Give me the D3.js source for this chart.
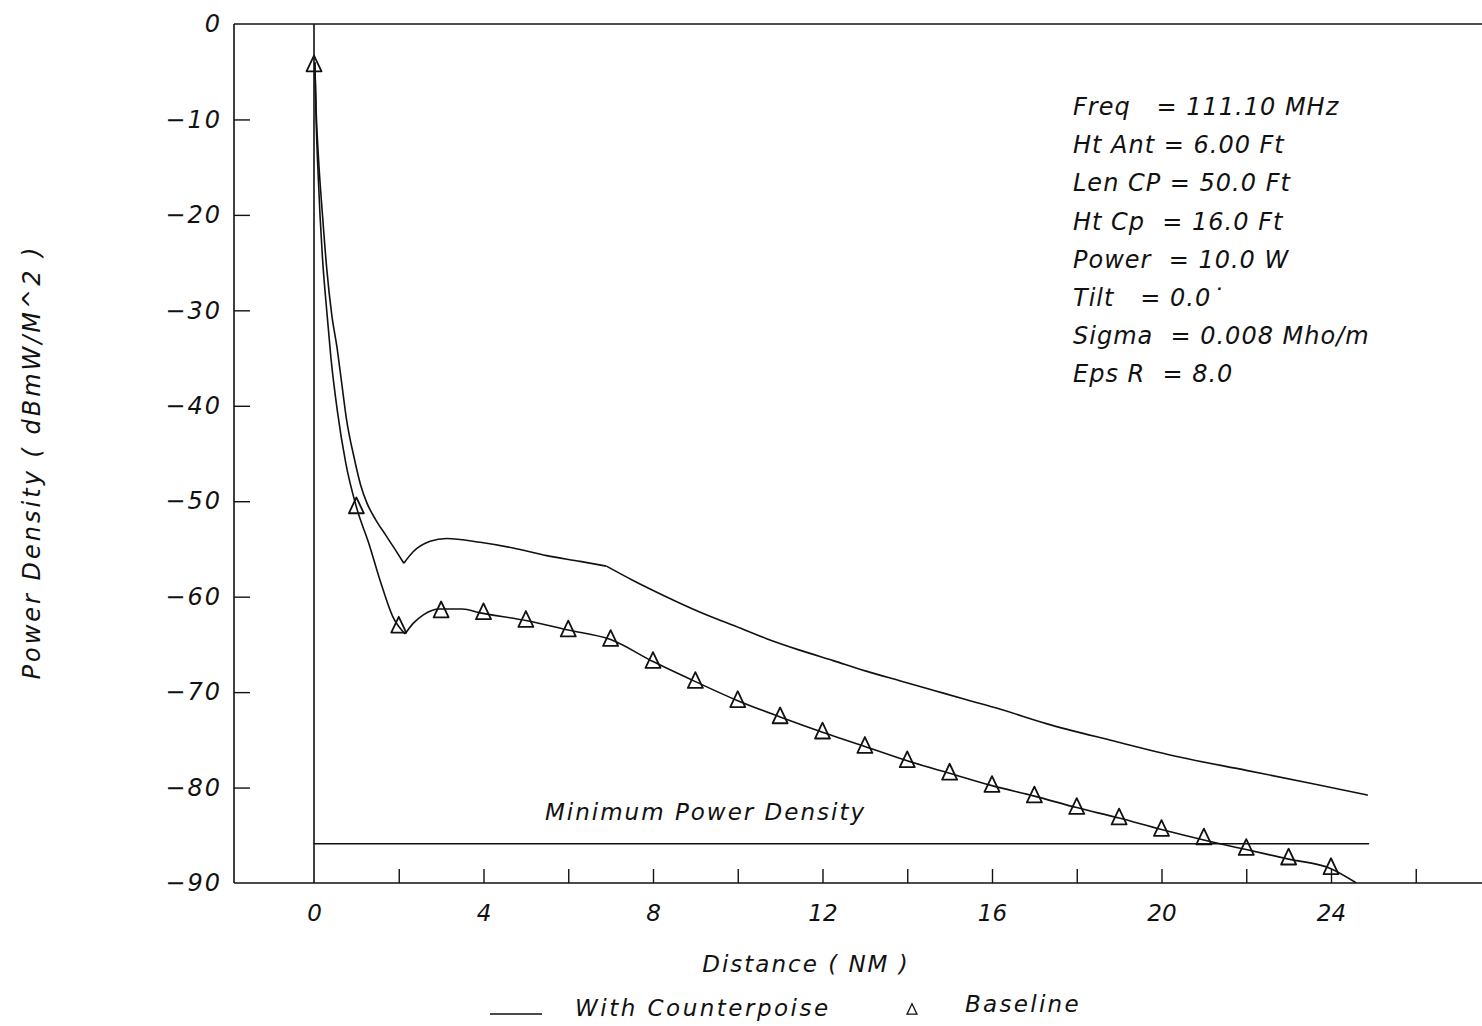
<!DOCTYPE html>
<html>
<head>
<meta charset="utf-8">
<script src="https://cdn.jsdelivr.net/npm/d3@7"></script>
<style>
  body { margin: 0; background: #fff; }
  svg text { font-family: "DejaVu Sans", sans-serif; font-style: italic; fill: #111; }
</style>
</head>
<body>
<svg id="chart" width="1482" height="1026"></svg>
<script>
// With Counterpoise curve, broken at the cusp and the knee
const counterX = [0.02, 0.05, 0.1, 0.2, 0.3, 0.42, 0.54, 0.65, 0.77, 0.95, 1.1, 1.25, 1.45, 1.7, 1.92, 2.12,
  2.34, 2.74, 3.13, 3.92, 4.7, 5.49, 6.28, 6.9,
  7.53, 8.31, 9.1, 9.89, 10.68, 11.46, 12.25, 13.03, 13.82, 14.61, 15.4, 16.2, 17.28, 18.85, 20.42, 22.0, 23.57, 24.87];
const counterY = [-4, -9, -13.6, -20, -25.6, -30.5, -33.8, -37.5, -41.5, -45.5, -48.3, -50.2, -51.9, -53.6, -55.1, -56.5,
  -55.3, -54.2, -53.9, -54.3, -54.9, -55.7, -56.3, -56.8,
  -58.3, -60.0, -61.6, -63.0, -64.4, -65.6, -66.7, -67.8, -68.8, -69.8, -70.8, -71.8, -73.3, -75.1, -76.8, -78.2, -79.6, -80.8];
const counterBreaks = [2.12, 6.9];

// Baseline curve
const baseX = [0.02, 0.05, 0.1, 0.2, 0.3, 0.4, 0.55, 0.75, 1.0, 1.3, 1.56, 1.87, 2.15,
  2.34, 2.58, 2.97, 3.5, 3.92, 5, 6, 7, 8, 9, 10, 11, 12, 13, 14, 15, 16, 17, 18, 19, 20, 21, 22, 23, 24, 24.6];
const baseY = [-4, -10, -16, -24.5, -30, -35, -40.5, -46, -50.6, -54.5, -58.3, -62.2, -63.9,
  -62.8, -61.9, -61.3, -61.3, -61.7, -62.5, -63.5, -64.5, -66.8, -68.9, -70.9, -72.6, -74.2, -75.7, -77.2, -78.5, -79.8, -80.9, -82.1, -83.2, -84.4, -85.5, -86.5, -87.5, -88.5, -90];
const baseBreaks = [2.15];

// Baseline markers (triangles)
const markerX = [0, 1, 2, 3, 4, 5, 6, 7, 8, 9, 10, 11, 12, 13, 14, 15, 16, 17, 18, 19, 20, 21, 22, 23, 24];
const markerY = [-4.3, -50.6, -63.1, -61.5, -61.7, -62.5, -63.5, -64.5, -66.8, -68.9, -70.9, -72.6, -74.2,
  -75.7, -77.2, -78.5, -79.8, -80.9, -82.1, -83.2, -84.4, -85.3, -86.4, -87.4, -88.4];

const minPowerX = [0, 24.9];
const minPowerY = [-85.9, -85.9];

const yTicks = [0, -10, -20, -30, -40, -50, -60, -70, -80, -90];
const xLabelTicks = [0, 4, 8, 12, 16, 20, 24];
const xMinorTicks = [2, 4, 6, 8, 10, 12, 14, 16, 18, 20, 22, 24, 26];

const params = [
  "Freq   = 111.10 MHz",
  "Ht Ant = 6.00 Ft",
  "Len CP = 50.0 Ft",
  "Ht Cp  = 16.0 Ft",
  "Power  = 10.0 W",
  "Tilt   = 0.0\u02d9",
  "Sigma  = 0.008 Mho/m",
  "Eps R  = 8.0"
];

const svg = d3.select("#chart");
const plotLeft = 234, plotRight = 1482, plotTop = 24, plotBottom = 883;

const xScale = d3.scaleLinear().domain([0, 24]).range([314, 1331]);
const yScale = d3.scaleLinear().domain([-90, 0]).range([plotBottom, plotTop]);

// frame
svg.append("line").attr("x1", plotLeft).attr("x2", plotLeft).attr("y1", plotTop).attr("y2", plotBottom)
  .attr("stroke", "#111").attr("stroke-width", 1.6);
svg.append("line").attr("x1", plotLeft).attr("x2", plotRight).attr("y1", plotTop).attr("y2", plotTop)
  .attr("stroke", "#111").attr("stroke-width", 1.4);
svg.append("line").attr("x1", plotLeft).attr("x2", plotRight).attr("y1", plotBottom).attr("y2", plotBottom)
  .attr("stroke", "#111").attr("stroke-width", 1.6);
svg.append("line").attr("x1", xScale(0)).attr("x2", xScale(0)).attr("y1", plotTop).attr("y2", plotBottom)
  .attr("stroke", "#111").attr("stroke-width", 1.6);

// y axis
const yAxis = svg.append("g")
  .attr("transform", `translate(${plotLeft},0)`)
  .call(d3.axisLeft(yScale).tickValues(yTicks).tickSizeInner(-16).tickSizeOuter(0).tickPadding(12));
yAxis.select(".domain").remove();
yAxis.selectAll(".tick line").attr("stroke", "#111").attr("stroke-width", 1.4)
  .filter((d) => d === 0 || d === -90).remove();
yAxis.selectAll(".tick text").style("font-size", "24px").style("letter-spacing", "2px");

// x axis ticks
const xTickAxis = svg.append("g")
  .attr("transform", `translate(0,${plotBottom})`)
  .call(d3.axisBottom(xScale).tickValues(xMinorTicks).tickSizeInner(-14).tickSizeOuter(0).tickFormat(""));
xTickAxis.select(".domain").remove();
xTickAxis.selectAll(".tick line").attr("stroke", "#111").attr("stroke-width", 1.4);

const xLabelAxis = svg.append("g")
  .attr("transform", `translate(0,${plotBottom})`)
  .call(d3.axisBottom(xScale).tickValues(xLabelTicks).tickSize(0).tickPadding(22));
xLabelAxis.select(".domain").remove();
xLabelAxis.selectAll(".tick text").style("font-size", "23px");

// curves
function segments(xs, ys, breaks) {
  const pts = xs.map((x, i) => [x, ys[i]]);
  const segs = [];
  let cur = [];
  pts.forEach((p) => {
    cur.push(p);
    if (breaks.includes(p[0])) {
      segs.push(cur);
      cur = [p];
    }
  });
  segs.push(cur);
  return segs;
}

const line = d3.line()
  .x((d) => xScale(d[0]))
  .y((d) => yScale(d[1]))
  .curve(d3.curveMonotoneX);

svg.append("defs").append("clipPath").attr("id", "clip")
  .append("rect").attr("x", plotLeft).attr("y", plotTop)
  .attr("width", plotRight - plotLeft).attr("height", plotBottom - plotTop);

const plot = svg.append("g").attr("clip-path", "url(#clip)");

plot.selectAll("path.counter")
  .data(segments(counterX, counterY, counterBreaks))
  .join("path")
  .attr("class", "counter")
  .attr("d", line)
  .attr("fill", "none")
  .attr("stroke", "#111")
  .attr("stroke-width", 1.6);

plot.selectAll("path.base")
  .data(segments(baseX, baseY, baseBreaks))
  .join("path")
  .attr("class", "base")
  .attr("d", line)
  .attr("fill", "none")
  .attr("stroke", "#111")
  .attr("stroke-width", 1.6);

// minimum power density line
plot.append("path")
  .datum(minPowerX.map((x, i) => [x, minPowerY[i]]))
  .attr("d", d3.line().x((d) => xScale(d[0])).y((d) => yScale(d[1])))
  .attr("stroke", "#111")
  .attr("stroke-width", 1.5);

svg.append("text")
  .attr("x", 545)
  .attr("y", 820)
  .style("font-size", "23px")
  .style("letter-spacing", "2px")
  .text("Minimum Power Density");

// open triangles, a little taller than wide like the plotter's
const plotterTriangle = {
  draw(context, size) {
    const h = Math.sqrt(size);
    const w = h * 0.95;
    context.moveTo(0, -h * 0.6);
    context.lineTo(w / 2, h * 0.4);
    context.lineTo(-w / 2, h * 0.4);
    context.closePath();
  }
};
const tri = d3.symbol().type(plotterTriangle).size(250);
svg.selectAll("path.marker")
  .data(markerX.map((x, i) => [x, markerY[i]]))
  .join("path")
  .attr("class", "marker")
  .attr("transform", (d) => `translate(${xScale(d[0])},${yScale(d[1])})`)
  .attr("d", tri)
  .attr("fill", "none")
  .attr("stroke", "#111")
  .attr("stroke-width", 1.8)
  .attr("stroke-linejoin", "round");

// parameter block
svg.append("g")
  .selectAll("text")
  .data(params)
  .join("text")
  .attr("x", 1073)
  .attr("y", (d, i) => 115 + i * 38.2)
  .attr("xml:space", "preserve")
  .style("white-space", "pre")
  .style("font-size", "24px")
  .style("letter-spacing", "1px")
  .text((d) => d);

// axis titles
svg.append("text")
  .attr("x", 806)
  .attr("y", 972)
  .attr("text-anchor", "middle")
  .style("font-size", "23px")
  .style("letter-spacing", "2px")
  .text("Distance ( NM )");

svg.append("text")
  .attr("transform", "translate(40,462) rotate(-90)")
  .attr("text-anchor", "middle")
  .style("font-size", "24px")
  .style("letter-spacing", "3px")
  .text("Power Density ( dBmW/M^2 )");

// legend
svg.append("line")
  .attr("x1", 490).attr("x2", 542).attr("y1", 1014).attr("y2", 1014)
  .attr("stroke", "#111").attr("stroke-width", 1.4);
svg.append("text")
  .attr("x", 575).attr("y", 1016)
  .style("font-size", "23px")
  .style("letter-spacing", "2.5px")
  .text("With Counterpoise");
svg.append("path")
  .attr("transform", "translate(912,1010)")
  .attr("d", d3.symbol().type(plotterTriangle).size(110))
  .attr("fill", "none").attr("stroke", "#111").attr("stroke-width", 1.3);
svg.append("text")
  .attr("x", 965).attr("y", 1012)
  .style("font-size", "23px")
  .style("letter-spacing", "2.3px")
  .text("Baseline");
</script>
</body>
</html>
